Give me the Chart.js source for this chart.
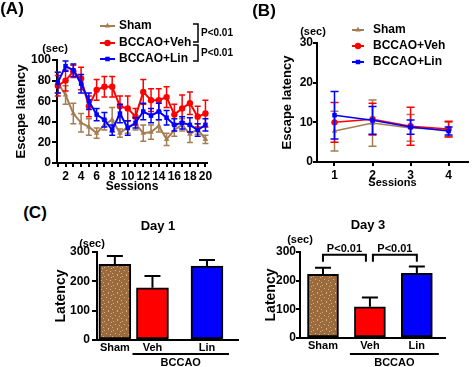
<!DOCTYPE html>
<html>
<head>
<meta charset="utf-8">
<script src="https://cdn.jsdelivr.net/npm/chart.js@4.4.1/dist/chart.umd.min.js"></script>
<style>
  body { margin: 0; width: 472px; height: 367px; overflow: hidden; position: relative; background: #fff;
         font-family: "Liberation Sans", Arial, sans-serif; font-weight: bold; color: #000; }
  canvas { position: absolute; }
  .lbl { position: absolute; white-space: nowrap; line-height: 1; transform: translate(-50%, -50%); }
</style>
</head>
<body>
<canvas id="chartA" width="240" height="200" style="left:0;top:0"></canvas>
<canvas id="chartB" width="232" height="200" style="left:240px;top:0"></canvas>
<canvas id="chartDay1" width="200" height="137" style="left:40px;top:230px"></canvas>
<canvas id="chartDay3" width="232" height="137" style="left:240px;top:230px"></canvas>

<div class="lbl" style="left:12px;top:8px;font-size:17px">(A)</div>
<div class="lbl" style="left:264px;top:10px;font-size:17px">(B)</div>
<div class="lbl" style="left:35px;top:212px;font-size:17px">(C)</div>
<div class="lbl" style="left:55px;top:48px;font-size:11px">(sec)</div>
<div class="lbl" style="left:313px;top:31px;font-size:11px">(sec)</div>
<div class="lbl" style="left:92px;top:243px;font-size:11px">(sec)</div>
<div class="lbl" style="left:300px;top:239px;font-size:11px">(sec)</div>
<div class="lbl" style="left:158px;top:225px;font-size:13px">Day 1</div>
<div class="lbl" style="left:368px;top:224px;font-size:13px">Day 3</div>

<script>
// datos panel A (20 sesiones)
const sessionsA = [1, 2, 3, 4, 5, 6, 7, 8, 9, 10, 11, 12, 13, 14, 15, 16, 17, 18, 19, 20];
const shamA    = [78, 66, 48, 39, 35, 29, 37, 42, 29, 35, 38, 29, 30, 36, 23, 32, 37, 28, 33, 23];
const shamAErr = [10, 9, 10, 9, 8, 5, 5, 12, 4, 6, 6, 8, 7, 6, 6, 6, 6, 8, 5, 4];
const vehA     = [75, 80, 89, 82, 55, 71, 74, 74, 55, 53, 45, 69, 61, 61, 64, 47, 53, 58, 45, 48];
const vehAErr  = [10, 10, 6, 11, 10, 10, 10, 10, 10, 12, 8, 12, 11, 11, 10, 10, 13, 11, 10, 13];
const linA     = [78, 94, 90, 77, 60, 47, 42, 32, 48, 34, 39, 50, 46, 50, 44, 37, 39, 37, 32, 37];
const linAErr  = [10, 5, 6, 9, 8, 6, 7, 5, 9, 7, 5, 8, 7, 8, 7, 6, 6, 7, 6, 6];

// datos panel B (4 sesiones)
const sessionsB = [1, 2, 3, 4];
const shamB    = [7.8, 9.8, 8.6, 8.2];
const shamBErr = [5, 5.8, 3.4, 1.8];
const vehB     = [10, 10.8, 9, 8.3];
const vehBErr  = [5, 4, 4.8, 2];
const linB     = [11.8, 10.5, 8.8, 7.8];
const linBErr  = [6, 3.5, 1.8, 1];

// datos panel C
const groups = ['Sham', 'Veh', 'Lin'];
const day1Latency = [258, 178, 252];
const day1Err     = [28, 40, 21];
const day3Latency = [222, 109, 226];
const day3Err     = [23, 32, 23];

const seriesNames = ['Sham', 'BCCAO+Veh', 'BCCAO+Lin'];
const FONT = '"Liberation Sans", Arial, sans-serif';
const BROWN = '#a67c52', RED = '#ff0000', BLUE = '#0000ff';

Chart.defaults.font.family = FONT;
Chart.defaults.font.weight = 'bold';
Chart.defaults.color = '#000';

// barras de error (simetricas, o solo hacia arriba en barras)
const errorBars = {
  id: 'errorBars',
  beforeDatasetDraw(chart, args, o) { if (o.before) drawErrors(chart, args, o); },
  afterDatasetDraw(chart, args, o) { if (!o.before) drawErrors(chart, args, o); }
};
function drawErrors(chart, args, o) {
  const ds = chart.data.datasets[args.index];
  if (!ds.errors) return;
  const ctx = chart.ctx, ys = chart.scales.y;
  ctx.save();
  ctx.strokeStyle = o.color || ds.borderColor;
  ctx.lineWidth = o.width;
  args.meta.data.forEach((el, i) => {
    const d = ds.data[i];
    const v = typeof d === 'object' ? d.y : d;
    const top = ys.getPixelForValue(v + ds.errors[i]);
    const bot = o.upOnly ? el.y : ys.getPixelForValue(v - ds.errors[i]);
    ctx.beginPath();
    ctx.moveTo(el.x, bot); ctx.lineTo(el.x, top);
    ctx.moveTo(el.x - o.cap, top); ctx.lineTo(el.x + o.cap, top);
    if (!o.upOnly) { ctx.moveTo(el.x - o.cap, bot); ctx.lineTo(el.x + o.cap, bot); }
    ctx.stroke();
  });
  ctx.restore();
}

// leyenda lateral + corchetes de P
const sideLegend = {
  id: 'sideLegend',
  afterDraw(chart, args, o) {
    if (!o.ys) return;
    const ctx = chart.ctx;
    ctx.save();
    chart.data.datasets.forEach((ds, i) => {
      const y = o.ys[i];
      ctx.strokeStyle = ds.borderColor; ctx.lineWidth = 2;
      ctx.beginPath(); ctx.moveTo(o.x0, y); ctx.lineTo(o.x1, y); ctx.stroke();
      ctx.fillStyle = ds.borderColor;
      Chart.helpers.drawPoint(ctx, { pointStyle: ds.pointStyle, radius: o.r, rotation: 0, borderWidth: 0 }, (o.x0 + o.x1) / 2, y);
      ctx.fillStyle = '#000';
      ctx.font = 'bold 12px ' + FONT;
      ctx.textBaseline = 'middle';
      ctx.fillText(ds.label, o.tx, y);
    });
    (o.brackets || []).forEach(b => {
      ctx.strokeStyle = '#000'; ctx.lineWidth = 1.5;
      ctx.beginPath();
      ctx.moveTo(b.x - 5, b.y0); ctx.lineTo(b.x, b.y0); ctx.lineTo(b.x, b.y1); ctx.lineTo(b.x - 5, b.y1);
      ctx.stroke();
      ctx.fillStyle = '#000';
      ctx.font = 'bold 10px ' + FONT;
      ctx.textBaseline = 'middle';
      ctx.fillText(b.label, b.x + 3, (b.y0 + b.y1) / 2);
    });
    ctx.restore();
  }
};

// linea BCCAO bajo Veh/Lin y corchetes de significancia
const groupMarks = {
  id: 'groupMarks',
  afterDraw(chart, args, o) {
    const ctx = chart.ctx, xs = chart.scales.x, ys = chart.scales.y;
    const pts = chart.getDatasetMeta(0).data;
    ctx.save();
    const a = pts[1].x - 20, b = pts[2].x + 22;
    ctx.strokeStyle = '#000'; ctx.lineWidth = 2;
    ctx.beginPath(); ctx.moveTo(a, o.lineY); ctx.lineTo(b, o.lineY); ctx.stroke();
    ctx.fillStyle = '#000'; ctx.textAlign = 'center'; ctx.textBaseline = 'middle';
    ctx.font = 'bold 11px ' + FONT;
    ctx.fillText('BCCAO', (a + b) / 2, o.lineY + 9);
    (o.sig || []).forEach(s => {
      const x1 = pts[s.from].x + s.dx1, x2 = pts[s.to].x + s.dx2;
      const y = ys.getPixelForValue(s.level);
      ctx.lineWidth = 2;
      ctx.beginPath();
      ctx.moveTo(x1, y + 7); ctx.lineTo(x1, y); ctx.lineTo(x2, y); ctx.lineTo(x2, y + 7);
      ctx.stroke();
      ctx.font = 'bold 11px ' + FONT;
      ctx.fillText(s.label, (x1 + x2) / 2, y - 6);
    });
    ctx.restore();
  }
};

function yAxis(max, step, width, title, titleSize, titlePad, tickLen, tickPad) {
  return {
    min: 0, max: max,
    ticks: { stepSize: step, padding: tickPad, font: { size: 12, weight: 'bold' } },
    grid: { drawOnChartArea: false, drawTicks: true, tickLength: tickLen, color: '#000', lineWidth: 2 },
    border: { color: '#000', width: 2 },
    title: { display: true, text: title, font: { size: titleSize, weight: 'bold', lineHeight: 1.2 }, padding: { top: titlePad, bottom: 0 } },
    afterFit(s) { s.width = width; }
  };
}

function lineSet(label, data, errs, color, style) {
  return {
    label: label, data: data, errors: errs,
    borderColor: color, backgroundColor: color,
    pointStyle: style, pointRadius: 3.2, pointBorderWidth: 0,
    borderWidth: 2, tension: 0, clip: false
  };
}

// Panel A
new Chart(document.getElementById('chartA'), {
  type: 'line',
  data: {
    labels: sessionsA,
    datasets: [
      Object.assign(lineSet(seriesNames[2], linA, linAErr, BLUE, 'rect'), { order: 0 }),
      Object.assign(lineSet(seriesNames[1], vehA, vehAErr, RED, 'circle'), { order: 1 }),
      Object.assign(lineSet(seriesNames[0], shamA, shamAErr, BROWN, 'triangle'), { order: 2 })
    ].reverse()
  },
  options: {
    responsive: false, animation: false, events: [],
    layout: { padding: { top: 60, right: 33, left: 0, bottom: 0 } },
    datasets: { line: { parsing: true } },
    scales: {
      x: {
        type: 'linear', min: 0.9, max: 20.2,
        afterBuildTicks(s) { s.ticks = sessionsA.map(v => ({ value: v })); },
        ticks: { autoSkip: false, maxRotation: 0, padding: 2, font: { size: 12, weight: 'bold' },
                 callback: v => (v % 2 === 0 ? String(v) : '') },
        grid: { drawOnChartArea: false, drawTicks: true, tickLength: 4, color: '#000', lineWidth: 2 },
        border: { color: '#000', width: 2 },
        title: { display: true, text: 'Sessions', font: { size: 12, weight: 'bold', lineHeight: 1.2 }, padding: { top: 0, bottom: 6 } },
        afterFit(s) { s.height = 37; }
      },
      y: yAxis(100, 20, 57, 'Escape latency', 13, 14, 5, 1)
    },
    plugins: {
      legend: { display: false }, tooltip: { enabled: false },
      errorBars: { width: 1.5, cap: 3, before: true },
      sideLegend: {
        x0: 100, x1: 115, tx: 119, r: 3.2, ys: [26, 43, 59],
        brackets: [
          { x: 198, y0: 24, y1: 42, label: 'P<0.01' },
          { x: 198, y0: 45, y1: 61, label: 'P<0.01' }
        ]
      }
    }
  },
  plugins: [errorBars, sideLegend]
});

// Panel B
new Chart(document.getElementById('chartB'), {
  type: 'line',
  data: {
    labels: sessionsB,
    datasets: [
      Object.assign(lineSet(seriesNames[0], shamB, shamBErr, BROWN, 'triangle'), { order: 2, borderWidth: 1.5 }),
      Object.assign(lineSet(seriesNames[1], vehB, vehBErr, RED, 'circle'), { order: 1, borderWidth: 1.5 }),
      Object.assign(lineSet(seriesNames[2], linB, linBErr, BLUE, 'rect'), { order: 0, borderWidth: 1.5 })
    ]
  },
  options: {
    responsive: false, animation: false, events: [],
    layout: { padding: { top: 43, right: 0, left: 0, bottom: 0 } },
    scales: {
      x: {
        type: 'linear', min: 0.54, max: 4.51,
        afterBuildTicks(s) { s.ticks = sessionsB.map(v => ({ value: v })); },
        ticks: { autoSkip: false, maxRotation: 0, padding: 2, font: { size: 12, weight: 'bold' } },
        grid: { drawOnChartArea: false, drawTicks: true, tickLength: 4, color: '#000', lineWidth: 2 },
        border: { color: '#000', width: 2 },
        title: { display: true, text: 'Sessions', font: { size: 11, weight: 'bold', lineHeight: 1.2 }, padding: { top: 0, bottom: 10 } },
        afterFit(s) { s.height = 38; }
      },
      y: yAxis(30, 10, 77, 'Escape latency', 13, 40, 4, 0)
    },
    plugins: {
      legend: { display: false }, tooltip: { enabled: false },
      errorBars: { width: 1.5, cap: 4, before: true },
      sideLegend: { x0: 112, x1: 124, tx: 133, r: 3.2, ys: [30, 46, 62] }
    }
  },
  plugins: [errorBars, sideLegend]
});

// textura punteada de la barra Sham
function speckle(base) {
  const c = document.createElement('canvas');
  c.width = 9; c.height = 9;
  const g = c.getContext('2d');
  g.fillStyle = base; g.fillRect(0, 0, 9, 9);
  g.fillStyle = '#d4ae86';
  [[1, 1], [5, 0], [3, 4], [7, 5], [0, 7], [5, 8], [8, 2]].forEach(p => g.fillRect(p[0], p[1], 1, 1));
  return g.createPattern(c, 'repeat');
}

function barChart(id, values, errs, slots, xMax, yWidth, xHeight, padRight, titlePad, tickLen, tickPad, thickness, sig) {
  return new Chart(document.getElementById(id), {
    type: 'bar',
    data: {
      datasets: [{
        data: values.map((v, i) => ({ x: slots[i], y: v })),
        errors: errs,
        backgroundColor: [speckle('#9b6b3e'), RED, BLUE],
        borderColor: '#000', borderWidth: 2, borderSkipped: false,
        barThickness: thickness
      }]
    },
    options: {
      responsive: false, animation: false, events: [],
      layout: { padding: { top: 22, right: padRight, left: 0, bottom: 0 } },
      scales: {
        x: {
          type: 'linear', min: 0, max: xMax, offset: false,
          afterBuildTicks(s) { s.ticks = slots.map(v => ({ value: v })); },
          ticks: { autoSkip: false, maxRotation: 0, padding: 1, font: { size: 11, weight: 'bold' },
                   callback: (v, i) => groups[i] },
          grid: { drawOnChartArea: false, drawTicks: false, offset: false },
          border: { color: '#000', width: 2 },
          afterFit(s) { s.height = xHeight; }
        },
        y: yAxis(300, 100, yWidth, 'Latency', 14, titlePad, tickLen, tickPad)
      },
      plugins: {
        legend: { display: false }, tooltip: { enabled: false },
        errorBars: { width: 2, cap: 8, upOnly: true, before: false, color: '#000' },
        groupMarks: { lineY: 124, sig: sig }
      }
    },
    plugins: [errorBars, groupMarks]
  });
}

barChart('chartDay1', day1Latency, day1Err, [0.38, 1.18, 2.34], 3.0, 57, 27, 2, 12.6, 5, 2, 32, []);
barChart('chartDay3', day3Latency, day3Err, [0.49, 1.49, 2.49], 3.09, 60, 29, 27, 22.6, 4, 0, 31, [
  { from: 0, to: 1, dx1: 0, dx2: -4, level: 290, label: 'P<0.01' },
  { from: 1, to: 2, dx1: 3, dx2: 0, level: 290, label: 'P<0.01' }
]);
</script>
</body>
</html>
